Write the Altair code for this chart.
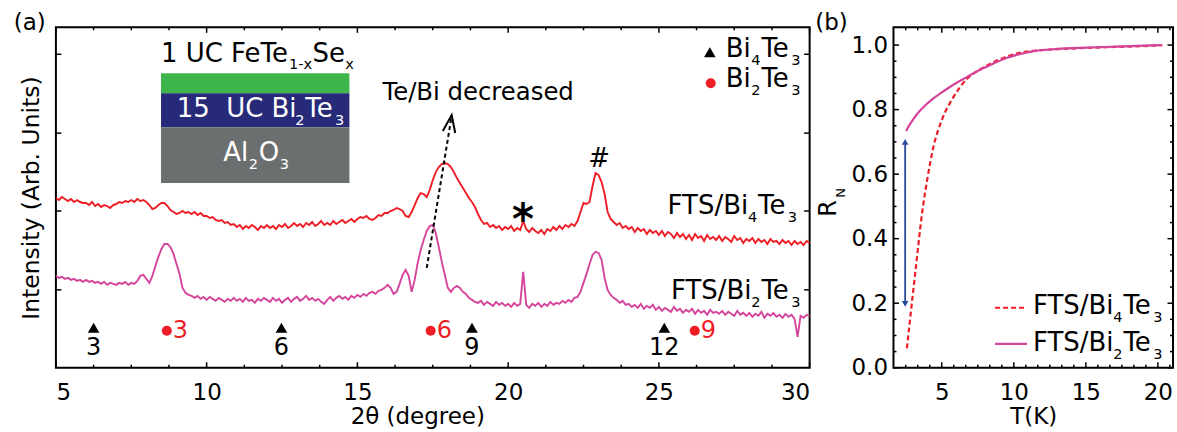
import altair as alt
import numpy as np
import pandas as pd

FONT = "DejaVu Sans"
RED = "#ee1d25"
MAGENTA = "#d4449b"
BLUE = "#2a4b9d"
GREEN = "#3db54a"
NAVY = "#262a78"
GREY = "#6c6f6f"

# ---------------- panel (a): XRD, 2theta from 5 to 30 deg, step 0.1 ----------------
TWO_THETA_START = 5.0
TWO_THETA_STEP = 0.1
xrd_bi4te3 = [
    170, 168, 171, 169, 167, 169, 166, 168, 166, 165,
    165, 163, 166, 162, 164, 161, 163, 162, 160, 163,
    164, 166, 165, 167, 166, 168, 166, 169, 167, 168,
    166, 163, 159, 160, 163, 165, 165, 162, 158, 156,
    154, 155, 157, 155, 156, 154, 156, 153, 155, 152,
    152, 150, 151, 148, 147, 148, 145, 146, 143, 144,
    141, 143, 139, 142, 140, 143, 141, 138, 142, 140,
    143, 140, 142, 139, 143, 141, 144, 140, 142, 145,
    142, 144, 141, 145, 143, 146, 142, 144, 147, 143,
    145, 143, 147, 144, 146, 148, 145, 147, 149, 146,
    149, 151, 150, 152, 149, 148, 150, 153, 152, 155,
    155, 157, 158, 160, 159, 157, 152, 151, 156, 163,
    170, 175, 174, 171, 178, 188, 196, 201, 204, 205,
    204, 201, 196, 190, 185, 180, 175, 170, 166, 161,
    154, 148, 144, 145, 141, 143, 140, 142, 138, 141,
    139, 142, 137, 140, 138, 147, 139, 136, 140, 137,
    135, 138, 134, 139, 137, 141, 138, 142, 139, 143,
    141, 144, 142, 147, 156, 165, 164, 166, 182, 195,
    193, 186, 174, 156, 149, 146, 143, 145, 140, 142,
    139, 141, 136, 140, 137, 139, 134, 138, 135, 137,
    133, 137, 132, 136, 134, 130, 135, 131, 134, 129,
    133, 128, 134, 130, 132, 127, 133, 129, 131, 128,
    132, 127, 131, 129, 126, 132, 128, 130, 125, 129,
    127, 130, 125, 129, 126, 128, 124, 129, 126, 127,
    124, 128, 125, 127, 123, 127, 124, 126, 123, 127,
    125,
]
xrd_bi2te3 = [
    92, 90, 91, 89, 90, 88, 89, 87, 88, 86,
    88, 86, 87, 85, 86, 84, 86, 83, 85, 84,
    83, 85, 84, 86, 83, 85, 84, 87, 92, 93,
    89, 85, 92, 102, 111, 119, 124, 124, 121, 114,
    104, 94, 80, 75, 73, 72, 70, 72, 69, 71,
    68, 71, 69, 67, 70, 68, 66, 69, 67, 70,
    67, 69, 66, 70, 67, 68, 65, 69, 67, 70,
    68, 66, 70, 67, 69, 65, 68, 70, 66, 69,
    71, 67, 69, 72, 68, 70, 67, 69, 66, 64,
    68, 71, 67, 70, 72, 69, 71, 68, 72, 70,
    73, 71, 74, 72, 75, 76, 74, 77, 78, 80,
    83, 80, 74, 76, 84, 93, 98, 92, 76, 88,
    105, 118, 128, 137, 142, 143, 135, 121, 106, 93,
    80, 76, 80, 82, 80, 76, 74, 70, 68, 66,
    65, 67, 63, 66, 64, 62, 66, 63, 65, 62,
    64, 61, 65, 62, 64, 96, 63, 60, 64, 62,
    65, 61, 64, 62, 66, 63, 65, 64, 67, 65,
    68, 66, 70, 71, 76, 85, 94, 104, 113, 116,
    115, 108, 90, 78, 73, 70, 68, 65, 67, 63,
    64, 61, 63, 60, 64, 59, 62, 60, 63, 58,
    61, 57, 60, 58, 56, 61, 57, 59, 55, 58,
    56, 59, 54, 58, 55, 57, 53, 58, 55, 56,
    54, 57, 53, 56, 54, 52, 57, 53, 55, 52,
    55, 51, 54, 52, 56, 50, 54, 52, 55, 51,
    53, 50, 54, 51, 53, 49, 31, 52, 50, 53,
    52,
]
bi4te3_peak_pos = [6.25, 12.48, 18.80, 25.18]
bi4te3_peak_lab = ["3", "6", "9", "12"]
bi2te3_peak_pos = [8.68, 17.43, 26.19]
bi2te3_peak_lab = ["3", "6", "9"]
intensity_ticks = [78, 157, 235, 314]

# ---------------- panel (b): normalised resistance ----------------
t_bi4te3 = [2.58, 2.75, 2.9, 3.1, 3.3, 3.5, 3.7, 4.0, 4.4, 5.0, 5.8, 6.7, 7.7,
            8.6, 9.5, 10.4, 11.5, 13.0, 15.0, 17.0, 19.0, 20.3]
rn_bi4te3 = [0.06, 0.13, 0.19, 0.27, 0.35, 0.43, 0.50, 0.585, 0.68, 0.767, 0.838,
             0.893, 0.926, 0.947, 0.964, 0.976, 0.983, 0.987, 0.991, 0.994, 0.997, 1.0]
t_bi2te3 = [2.53, 2.7, 2.9, 3.2, 3.5, 3.9, 4.4, 4.9, 5.8, 6.7, 7.6, 8.6, 9.5, 10.4,
            11.5, 13.0, 15.0, 17.0, 19.0, 20.3]
rn_bi2te3 = [0.734, 0.748, 0.762, 0.781, 0.797, 0.815, 0.834, 0.85, 0.877, 0.90,
             0.922, 0.943, 0.96, 0.972, 0.982, 0.988, 0.992, 0.995, 0.998, 1.0]

# ---------------- geometry ----------------
WA, HA = 755, 341
XA_DOM, YA_DOM = [5, 30], [0, 341]
XPX_A = WA / (XA_DOM[1] - XA_DOM[0])
YPX_A = HA / (YA_DOM[1] - YA_DOM[0])
WB, HB = 280, 341
XB_DOM, YB_DOM = [1.65, 21.05], [0, 1.055]
XPX_B = WB / (XB_DOM[1] - XB_DOM[0])
YPX_B = HB / (YB_DOM[1] - YB_DOM[0])

CW = {' ': 318, '\u00a0': 318, '#': 838, '(': 390, ')': 390, '*': 500, '-': 361,
      '.': 318, '/': 337, 'A': 684, 'B': 686, 'C': 698, 'F': 575, 'S': 635,
      'T': 611, 'U': 732, 'O': 787, 'R': 695, 'N': 748, 'K': 656, 'a': 613,
      'b': 635, 'c': 550, 'd': 635, 'e': 615, 'g': 635, 'i': 278, 'l': 278,
      'r': 411, 's': 521, 'x': 592}
for _d in "0123456789":
    CW[_d] = 636
KERN = {('T', 'e'): -95, ('F', 'e'): -35}


def text_width(s, size):
    w = sum(CW.get(ch, 600) for ch in s)
    w += sum(KERN.get((a, b), 0) for a, b in zip(s, s[1:]))
    return w * size / 1000.0 * 0.98


def rich(parts, x, y, size, color, xpx, ypx, sub_scale=0.56):
    rows, off = [], 0.0
    for txt, sub in parts:
        fs = size * sub_scale if sub else size
        drop = size * 0.45 if sub else 0.0
        rows.append({"x": x + off / xpx, "y": y - drop / ypx, "text": txt,
                     "size": fs, "color": color})
        off += text_width(txt, fs) + 1.0
    return rows


def tick_rows(xmaj, xmin, ymaj, ymin, xd, yd, xpx, ypx, lmaj=5.5, lmin=3.0):
    rows = []
    for v, ln in [(t, lmaj) for t in xmaj] + [(t, lmin) for t in xmin]:
        rows.append({"x": v, "x2": v, "y": yd[0], "y2": yd[0] + ln / ypx})
        rows.append({"x": v, "x2": v, "y": yd[1], "y2": yd[1] - ln / ypx})
    for v, ln in [(t, lmaj) for t in ymaj] + [(t, lmin) for t in ymin]:
        rows.append({"x": xd[0], "x2": xd[0] + ln / xpx, "y": v, "y2": v})
        rows.append({"x": xd[1], "x2": xd[1] - ln / xpx, "y": v, "y2": v})
    return pd.DataFrame(rows)


# ================= panel (a) =================
XA = alt.X("x:Q", scale=alt.Scale(domain=XA_DOM, nice=False, zero=False),
           axis=alt.Axis(values=[5, 10, 15, 20, 25, 30], title="2θ (degree)", ticks=False,
                         domain=False, grid=False, labelPadding=14, titlePadding=1,
                         titleX=362, titleAlign="center"))
YA = alt.Y("y:Q", scale=alt.Scale(domain=YA_DOM, nice=False, zero=False),
           axis=alt.Axis(values=intensity_ticks, labels=False, ticks=False, domain=False,
                         grid=False, title="Intensity (Arb. Units)", titlePadding=12,
                         titleFontSize=23.5))

xrd_x = np.round(TWO_THETA_START + TWO_THETA_STEP * np.arange(len(xrd_bi4te3)), 2)
df_red = pd.DataFrame({"x": xrd_x, "y": xrd_bi4te3})
df_mag = pd.DataFrame({"x": xrd_x, "y": xrd_bi2te3})

inset = pd.DataFrame({"x": [8.487] * 3, "x2": [14.735] * 3,
                      "y": [295, 275, 241], "y2": [275, 241, 185],
                      "fill": [GREEN, NAVY, GREY]})
l_inset = alt.Chart(inset).mark_rect().encode(
    x=XA, x2="x2:Q", y=YA, y2="y2:Q", color=alt.Color("fill:N", scale=None))

l_red = alt.Chart(df_red).mark_line(color=RED, strokeWidth=1.9).encode(x=XA, y=YA)
l_mag = alt.Chart(df_mag).mark_line(color=MAGENTA, strokeWidth=1.9).encode(x=XA, y=YA)

arrow_df = pd.DataFrame({"x": [17.30, 18.13], "y": [100, 253]})
l_arrow = alt.Chart(arrow_df).mark_line(color="black", strokeWidth=2, strokeDash=[4, 3]).encode(x=XA, y=YA)
head_df = pd.DataFrame({"x": [18.083], "y": [244.6]})
l_head = alt.Chart(head_df).mark_point(shape="M-0.7,0.95L0,-0.95L0.7,0.95", filled=False,
                                       strokeWidth=2, size=324, angle=9, color="black",
                                       opacity=1).encode(x=XA, y=YA)

tri_df = pd.DataFrame({"x": bi4te3_peak_pos + [26.69], "y": [40] * len(bi4te3_peak_pos) + [316]})
l_tri = alt.Chart(tri_df).mark_point(shape="triangle-up", filled=True, size=135, color="black",
                                     opacity=1).encode(x=XA, y=YA)
dot_df = pd.DataFrame({"x": bi2te3_peak_pos + [26.72], "y": [37] * len(bi2te3_peak_pos) + [285]})
l_dot = alt.Chart(dot_df).mark_point(shape="circle", filled=True, size=100, color=RED,
                                     opacity=1).encode(x=XA, y=YA)

blab_df = pd.DataFrame({"x": bi4te3_peak_pos, "y": [40] * 4, "text": bi4te3_peak_lab})
l_blab = alt.Chart(blab_df).mark_text(font=FONT, fontSize=24, dy=20, align="center",
                                      baseline="middle", color="black").encode(x=XA, y=YA, text="text:N")
rlab_df = pd.DataFrame({"x": bi2te3_peak_pos, "y": [37] * 3, "text": bi2te3_peak_lab})
l_rlab = alt.Chart(rlab_df).mark_text(font=FONT, fontSize=24, dx=6, align="left",
                                      baseline="middle", color=RED).encode(x=XA, y=YA, text="text:N")

S = 26
rows_a = []
rows_a += rich([("1 UC FeTe", 0), ("1-x", 1), ("Se", 0), ("x", 1)], 8.487, 314.7, S, "black", XPX_A, YPX_A)
rows_a += rich([("15\u00a0 UC Bi", 0), ("2", 1), ("Te", 0), ("3", 1)], 9.007, 259, S, "white", XPX_A, YPX_A)
rows_a += rich([("Al", 0), ("2", 1), ("O", 0), ("3", 1)], 10.553, 215, S, "white", XPX_A, YPX_A)
rows_a += rich([("Bi", 0), ("4", 1), ("Te", 0), ("3", 1)], 27.22, 319, S, "black", XPX_A, YPX_A)
rows_a += rich([("Bi", 0), ("2", 1), ("Te", 0), ("3", 1)], 27.22, 289, S, "black", XPX_A, YPX_A)
rows_a += rich([("Te/Bi decreased", 0)], 15.83, 275.5, 24.4, "black", XPX_A, YPX_A)
rows_a += rich([("#", 0)], 22.66, 209, 26, "black", XPX_A, YPX_A)
rows_a += rich([("FTS/Bi", 0), ("4", 1), ("Te", 0), ("3", 1)], 25.29, 162, S, "black", XPX_A, YPX_A)
rows_a += rich([("FTS/Bi", 0), ("2", 1), ("Te", 0), ("3", 1)], 25.40, 77, S, "black", XPX_A, YPX_A)
rows_a += rich([("(a)", 0)], 3.60, 345, 23, "black", XPX_A, YPX_A)
l_text_a = alt.Chart(pd.DataFrame(rows_a)).mark_text(font=FONT, align="left", baseline="middle").encode(
    x=XA, y=YA, text="text:N", size=alt.Size("size:Q", scale=None), color=alt.Color("color:N", scale=None))

star_df = pd.DataFrame({"x": [20.49], "y": [147], "text": ["*"]})
l_star = alt.Chart(star_df).mark_text(font=FONT, fontSize=42, fontWeight="bold", align="center",
                                      baseline="middle", color="black").encode(x=XA, y=YA, text="text:N")

ticks_a = tick_rows(list(range(5, 31, 5)), [5 + 1.25 * k for k in range(1, 20) if k % 4],
                    intensity_ticks, [], XA_DOM, YA_DOM, XPX_A, YPX_A)
l_ticks_a = alt.Chart(ticks_a).mark_rule(color="black", strokeWidth=1.5).encode(
    x=XA, x2="x2:Q", y=YA, y2="y2:Q")

panel_a = alt.layer(l_inset, l_red, l_mag, l_arrow, l_head, l_tri, l_dot, l_blab, l_rlab,
                    l_text_a, l_star, l_ticks_a).properties(width=WA, height=HA)

# ================= panel (b) =================
XB = alt.X("x:Q", scale=alt.Scale(domain=XB_DOM, nice=False, zero=False),
           axis=alt.Axis(values=[5, 10, 15, 20], title="T(K)", ticks=False, domain=False,
                         grid=False, labelPadding=14, titlePadding=1))
YB = alt.Y("y:Q", scale=alt.Scale(domain=YB_DOM, nice=False, zero=False),
           axis=alt.Axis(values=[0, 0.2, 0.4, 0.6, 0.8, 1.0], format=".1f", ticks=False,
                         domain=False, grid=False, title=None, labelPadding=6))

l_b4 = alt.Chart(pd.DataFrame({"x": t_bi4te3, "y": rn_bi4te3})).mark_line(
    color=RED, strokeWidth=2.2, strokeDash=[5, 3], interpolate="monotone").encode(x=XB, y=YB)
l_b2 = alt.Chart(pd.DataFrame({"x": t_bi2te3, "y": rn_bi2te3})).mark_line(
    color=MAGENTA, strokeWidth=2.2, interpolate="monotone").encode(x=XB, y=YB)

l_barrow = alt.Chart(pd.DataFrame({"x": [2.46], "y": [0.20], "y2": [0.70]})).mark_rule(
    color=BLUE, strokeWidth=1.8).encode(x=XB, y=YB, y2="y2:Q")
l_bup = alt.Chart(pd.DataFrame({"x": [2.46], "y": [0.70]})).mark_point(
    shape="triangle-up", filled=True, size=45, color=BLUE, opacity=1).encode(x=XB, y=YB)
l_bdown = alt.Chart(pd.DataFrame({"x": [2.46], "y": [0.198]})).mark_point(
    shape="triangle-down", filled=True, size=45, color=BLUE, opacity=1).encode(x=XB, y=YB)

leg_dash = alt.Chart(pd.DataFrame({"x": [8.70], "x2": [10.92], "y": [0.186]})).mark_rule(
    color=RED, strokeWidth=2.2, strokeDash=[5, 3]).encode(x=XB, x2="x2:Q", y=YB)
leg_solid = alt.Chart(pd.DataFrame({"x": [8.70], "x2": [10.92], "y": [0.074]})).mark_rule(
    color=MAGENTA, strokeWidth=2.2).encode(x=XB, x2="x2:Q", y=YB)

rows_b = []
rows_b += rich([("FTS/Bi", 0), ("4", 1), ("Te", 0), ("3", 1)], 11.33, 0.19, S, "black", XPX_B, YPX_B)
rows_b += rich([("FTS/Bi", 0), ("2", 1), ("Te", 0), ("3", 1)], 11.33, 0.076, S, "black", XPX_B, YPX_B)
rows_b += rich([("(b)", 0)], -3.775, 1.0675, 23, "black", XPX_B, YPX_B)
l_text_b = alt.Chart(pd.DataFrame(rows_b)).mark_text(font=FONT, align="left", baseline="middle").encode(
    x=XB, y=YB, text="text:N", size=alt.Size("size:Q", scale=None), color=alt.Color("color:N", scale=None))

rn_df = pd.DataFrame({"x": [-2.80, -1.974], "y": [0.4935, 0.5415], "text": ["R", "N"], "size": [24, 13]})
l_rn = alt.Chart(rn_df).mark_text(font=FONT, angle=270, align="center", baseline="middle",
                                  color="black").encode(x=XB, y=YB, text="text:N",
                                                        size=alt.Size("size:Q", scale=None))

xb_minor = [2.5 + k * 5 / 6 for k in range(0, 23) if k % 6 != 3]
yb_minor = [0.05 * k for k in range(1, 21) if k % 4]
ticks_b = tick_rows([5, 10, 15, 20], xb_minor, [0, 0.2, 0.4, 0.6, 0.8, 1.0], yb_minor,
                    XB_DOM, YB_DOM, XPX_B, YPX_B)
l_ticks_b = alt.Chart(ticks_b).mark_rule(color="black", strokeWidth=1.5).encode(
    x=XB, x2="x2:Q", y=YB, y2="y2:Q")

panel_b = alt.layer(l_b4, l_b2, l_barrow, l_bup, l_bdown, leg_dash, leg_solid, l_text_b, l_rn,
                    l_ticks_b).properties(width=WB, height=HB)

chart = alt.hconcat(panel_a, panel_b, spacing=84, bounds="flush").properties(
    padding={"left": 12, "top": 10, "right": 2, "bottom": 2}
).configure_view(stroke="black", strokeWidth=2).configure_axis(
    labelFont=FONT, titleFont=FONT, labelFontSize=23, titleFontSize=23,
    labelColor="black", titleColor="black", titleFontWeight="normal")

chart.save("out.html", embed_options={"renderer": "svg", "actions": False})
